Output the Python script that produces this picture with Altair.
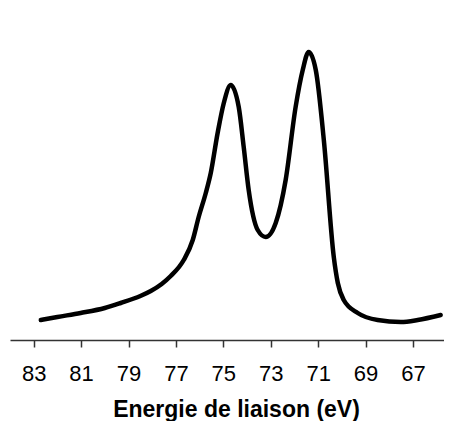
import altair as alt
import pandas as pd

energy = [82.70, 82.00, 81.02, 80.00, 79.33, 78.50, 78.06, 77.60, 77.22, 76.67, 76.29, 76.04, 75.74, 75.53,
          75.24, 74.98, 74.69, 74.35, 74.14, 73.93, 73.55, 73.21, 72.79, 72.37, 71.95,
          71.65, 71.40, 71.10, 70.76, 70.34, 70.17, 69.92, 69.33, 68.49, 67.51, 66.80, 65.83]
intensity = [20, 23, 27, 32, 37, 44, 49, 56, 64, 80, 100, 123, 147, 167,
             207, 237, 255, 233, 193, 150, 110, 103, 117, 160, 233,
             270, 288, 270, 200, 83, 57, 40, 27, 20, 18, 20, 25]
tick_values = [83, 81, 79, 77, 75, 73, 71, 69, 67]

df = pd.DataFrame({"energy": energy, "intensity": intensity})

chart = alt.Chart(df).mark_line(
    color="black", strokeWidth=4.5, interpolate="monotone", strokeCap="round", strokeJoin="round"
).encode(
    x=alt.X("energy:Q",
            scale=alt.Scale(domain=[84, 65.69], nice=False, zero=False),
            axis=alt.Axis(values=tick_values, title="Energie de liaison (eV)", grid=False,
                          tickSize=7, labelPadding=16, titlePadding=14, format="d",
                          titleX=226, titleAlign="center")),
    y=alt.Y("intensity:Q", scale=alt.Scale(domain=[0, 332], nice=False), axis=None),
).properties(
    width=434, height=332,
    padding={"left": 2, "top": 0, "right": 0, "bottom": 0},
).configure_view(stroke=None).configure_axis(
    domainColor="#333333", tickColor="#333333", domainWidth=1.5, tickWidth=1.5,
    labelFont="Liberation Sans", labelFontSize=22, labelColor="black",
    titleFont="Liberation Sans", titleFontSize=23, titleFontWeight="bold", titleColor="black",
)

chart.save("out.html", embed_options={"renderer": "svg", "actions": False})
